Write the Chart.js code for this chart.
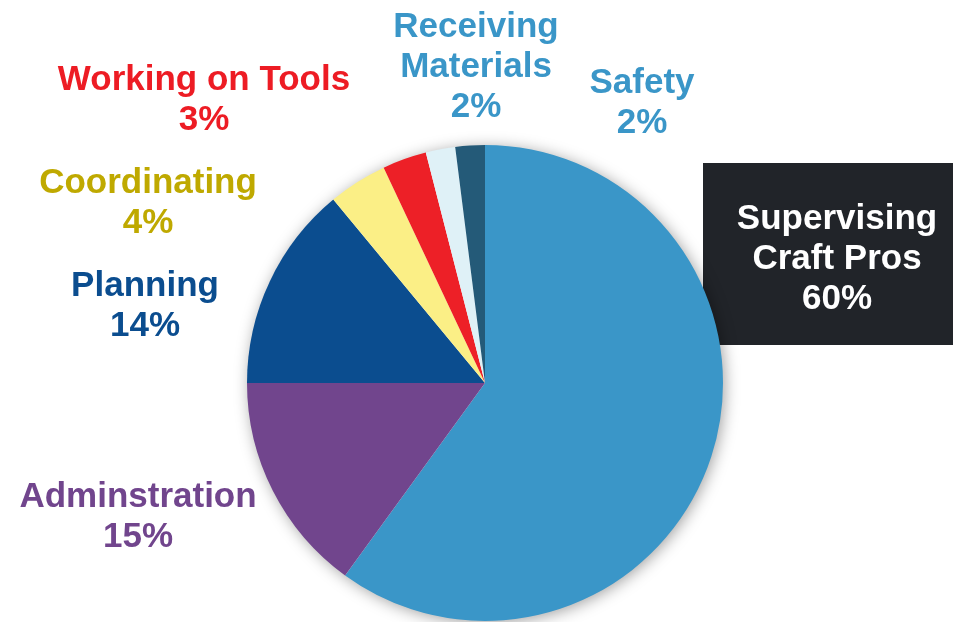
<!DOCTYPE html>
<html>
<head>
<meta charset="utf-8">
<script src="https://cdn.jsdelivr.net/npm/chart.js@4.4.1/dist/chart.umd.min.js"></script>
<style>
  html, body { margin: 0; padding: 0; background: #fff; }
  #wrap { width: 958px; height: 622px; position: relative; }
</style>
</head>
<body>
<div id="wrap"><canvas id="timeChart"></canvas></div>
<script>
// how the time is split (percent), clockwise from the top
const categories = [
  ['Supervising', 'Craft Pros'],
  ['Adminstration'],
  ['Planning'],
  ['Coordinating'],
  ['Working on Tools'],
  ['Receiving', 'Materials'],
  ['Safety']
]
const values = [60, 15, 14, 4, 3, 2, 2]

const sliceColors = ['#3a96c8', '#71458d', '#0b4d8f', '#fbef86', '#ed2027', '#dff1f7', '#245a78']
const textColors  = ['#ffffff', '#71458d', '#0b4d8f', '#bfa900', '#ed1c24', '#3a96c8', '#3a96c8']

// label anchors: centre x and first baseline
const labelSpots = [
  { x: 837, y: 229 },
  { x: 138, y: 507 },
  { x: 145, y: 296 },
  { x: 148, y: 193 },
  { x: 204, y: 90 },
  { x: 476, y: 37 },
  { x: 642, y: 93 }
]
const lineGap = 40
const labelFont = 'bold 35px "Liberation Sans", Arial, sans-serif'

// dark box behind the big slice label + soft glow under the pie
const backdrop = {
  id: 'backdrop',
  beforeDatasetsDraw(chart) {
    const ctx = chart.ctx
    ctx.save()
    ctx.fillStyle = '#212429'
    ctx.fillRect(703, 163, 250, 182)

    const arc = chart.getDatasetMeta(0).data[0]
    ctx.shadowColor = 'rgba(0,0,0,0.4)'
    ctx.shadowBlur = 16
    ctx.shadowOffsetX = 2
    ctx.shadowOffsetY = 2
    ctx.fillStyle = '#ffffff'
    ctx.beginPath()
    ctx.arc(arc.x, arc.y, arc.outerRadius - 1, 0, Math.PI * 2)
    ctx.fill()
    ctx.restore()
  }
}

const sliceLabels = {
  id: 'sliceLabels',
  afterDraw(chart) {
    const ctx = chart.ctx
    ctx.save()
    ctx.font = labelFont
    ctx.textAlign = 'center'
    ctx.textBaseline = 'alphabetic'
    categories.forEach((lines, i) => {
      const spot = labelSpots[i]
      const all = lines.concat([values[i] + '%'])
      ctx.fillStyle = textColors[i]
      all.forEach((t, k) => ctx.fillText(t, spot.x, spot.y + k * lineGap))
    })
    ctx.restore()
  }
}

function drawChart () {
  let ctx = document.getElementById('timeChart').getContext('2d')
  let timeChart = new Chart(ctx, {
    type: 'pie',
    data: {
      labels: categories,
      datasets: [{
        data: values,
        backgroundColor: sliceColors,
        borderWidth: 0
      }]
    },
    options: {
      responsive: true,
      maintainAspectRatio: false,
      animation: false,
      layout: { padding: { top: 145, bottom: 1, left: 247, right: 235 } },
      plugins: {
        legend: { display: false },
        tooltip: { enabled: false }
      }
    },
    plugins: [backdrop, sliceLabels]
  })
}

document.fonts.load(labelFont).then(drawChart, drawChart)
</script>
</body>
</html>
